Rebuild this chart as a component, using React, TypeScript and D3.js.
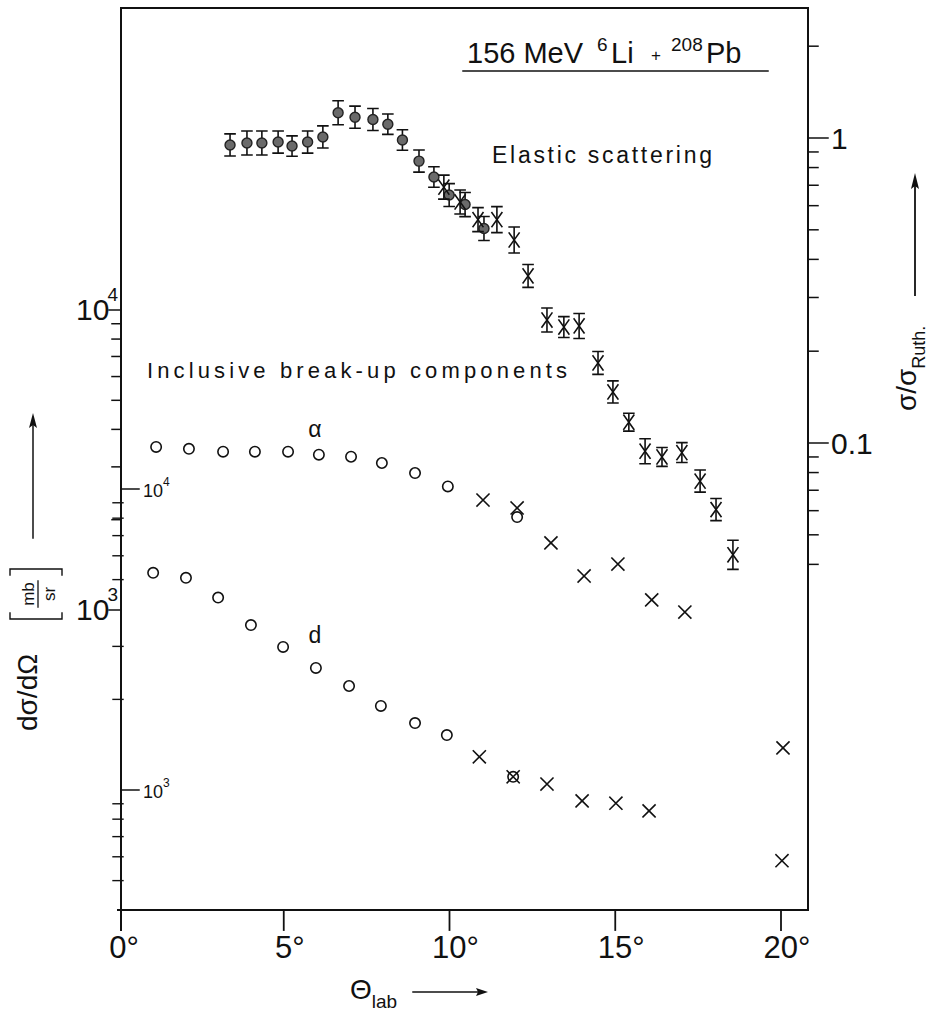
import React, { useEffect, useRef } from "react";
import * as d3 from "d3";

// elastic scattering, sigma/sigma_Ruth on the right axis
const elCircTheta = [3.38, 3.89, 4.34, 4.83, 5.25, 5.72, 6.18, 6.64, 7.15, 7.69, 8.14, 8.58, 9.08, 9.53, 9.99, 10.47, 11.04];
const elCircRatio = [0.949, 0.963, 0.963, 0.97, 0.941, 0.97, 1.008, 1.21, 1.17, 1.15, 1.11, 0.985, 0.84, 0.745, 0.65, 0.605, 0.505];
const elCircErr = [8.7, 9.5, 9.5, 8.7, 8, 8.7, 8.7, 9.5, 8.7, 8.7, 8, 8, 8.7, 8, 9, 9.5, 9.5]; // percent
const elCrossTheta = [9.83, 10.32, 10.86, 11.43, 11.95, 12.37, 12.94, 13.45, 13.91, 14.48, 14.93, 15.41, 15.9, 16.41, 17.01, 17.56, 18.04, 18.55];
const elCrossRatio = [0.69, 0.617, 0.54, 0.54, 0.463, 0.353, 0.253, 0.24, 0.242, 0.183, 0.147, 0.117, 0.094, 0.09, 0.093, 0.075, 0.0605, 0.043];
const elCrossErr = [9.5, 9.5, 9.5, 10.3, 10.3, 9, 9.5, 8.2, 9.9, 9, 8.7, 7, 9.9, 7.4, 7.8, 8.7, 8.7, 11.6];

// inclusive alpha break-up component (inner left scale, mb/sr)
const alphaCircTheta = [1.15, 2.14, 3.17, 4.13, 5.13, 6.06, 7.03, 7.96, 8.96, 9.95, 12.04];
const alphaCircVal = [13800, 13600, 13300, 13300, 13300, 13000, 12800, 12200, 11300, 10200, 8070];
const alphaCrossTheta = [11.01, 12.04, 13.06, 14.06, 15.08, 16.1, 17.1, 20.06];
const alphaCrossVal = [9190, 8650, 6620, 5140, 5630, 4280, 3900, 1380];

// inclusive deuteron component (outer left scale, mb/sr)
const dCircTheta = [1.06, 2.05, 3.02, 4.01, 4.98, 5.97, 6.97, 7.93, 8.96, 9.92, 11.92];
const dCircVal = [1330, 1280, 1100, 891, 753, 641, 558, 479, 420, 383, 278];
const dCrossTheta = [10.9, 11.92, 12.94, 14.0, 15.02, 16.02, 20.03];
const dCrossVal = [324, 278, 263, 231, 227, 214, 146];

const xTicks = [0, 5, 10, 15, 20];
const rightMajor = [1, 0.1];
const rightMinor = [2, 0.9, 0.8, 0.7, 0.6, 0.5, 0.4, 0.3, 0.2, 0.09, 0.08, 0.07, 0.06, 0.05, 0.04];
const outerMajor = [1e4, 1e3];
const outerMinor = [9000, 8000, 7000, 6000, 5000, 4000, 3000, 2000];
const innerMajor = [1e4, 1e3];
const innerMinor = [9000, 8000, 7000, 6000, 5000, 3000, 2000, 900, 800, 700, 600, 500];

const ink = "#111";
const font2 = "'Liberation Sans', Arial, sans-serif";

export default function App() {
  const ref = useRef<SVGSVGElement>(null);

  useEffect(() => {
    const svg = d3.select(ref.current);
    svg.selectAll("*").remove();

    const left = 121, right = 808, top = 8, bottom = 910;

    const x = d3.scaleLinear().domain([0, 20]).range([118, 781]);
    const yR = d3.scaleLog().domain([1, 0.1]).range([138, 443]);
    const yOuter = d3.scaleLog().domain([1e4, 1e3]).range([310, 610]);
    const yInner = d3.scaleLog().domain([1e4, 1e3]).range([489, 790]);

    const g = svg.append("g").attr("stroke-linecap", "square");

    // frame
    g.append("path")
      .attr("d", `M${left},${bottom + 20}V${top}H${right}V${bottom}H${left - 3}`)
      .attr("fill", "none").attr("stroke", ink).attr("stroke-width", 2);

    // x ticks
    xTicks.forEach(t => {
      if (t > 0) {
        g.append("line").attr("x1", x(t)).attr("x2", x(t)).attr("y1", bottom).attr("y2", bottom + 20)
          .attr("stroke", ink).attr("stroke-width", 1.8);
      }
      g.append("text").attr("x", x(t) + 6).attr("y", 958).attr("text-anchor", "middle")
        .attr("font-family", font2).attr("font-size", 31).attr("fill", ink).text(t + "°");
    });

    // right axis
    rightMinor.forEach(v => {
      g.append("line").attr("x1", right).attr("x2", right + 10).attr("y1", yR(v)).attr("y2", yR(v))
        .attr("stroke", ink).attr("stroke-width", 1.5);
    });
    rightMajor.forEach(v => {
      g.append("line").attr("x1", right).attr("x2", right + 20).attr("y1", yR(v)).attr("y2", yR(v))
        .attr("stroke", ink).attr("stroke-width", 1.5);
      g.append("text").attr("x", right + 23).attr("y", yR(v) + 11)
        .attr("font-family", font2).attr("font-size", 30).attr("fill", ink).text(v === 1 ? "1" : "0.1");
    });

    // outer left scale (big labels, ticks outward)
    outerMinor.forEach(v => {
      g.append("line").attr("x1", left - 9).attr("x2", left).attr("y1", yOuter(v)).attr("y2", yOuter(v))
        .attr("stroke", ink).attr("stroke-width", 1.5);
    });
    outerMajor.forEach(v => {
      g.append("line").attr("x1", left - 12).attr("x2", left).attr("y1", yOuter(v)).attr("y2", yOuter(v))
        .attr("stroke", ink).attr("stroke-width", 1.5);
      const t = g.append("text").attr("x", 76).attr("y", yOuter(v) + 10)
        .attr("font-family", font2).attr("font-size", 30).attr("fill", ink);
      t.append("tspan").text("10");
      t.append("tspan").attr("dx", -2).attr("dy", -19).attr("font-size", 19).text(String(Math.log10(v)));
    });

    // inner left scale (small labels, ticks inward)
    innerMinor.forEach(v => {
      g.append("line").attr("x1", left - 8).attr("x2", left + 2).attr("y1", yInner(v)).attr("y2", yInner(v))
        .attr("stroke", ink).attr("stroke-width", 1.4);
    });
    innerMajor.forEach(v => {
      g.append("line").attr("x1", left).attr("x2", left + 18).attr("y1", yInner(v)).attr("y2", yInner(v))
        .attr("stroke", ink).attr("stroke-width", 1.5);
      const t = g.append("text").attr("x", 143).attr("y", yInner(v) + 8)
        .attr("font-family", font2).attr("font-size", 18).attr("fill", ink);
      t.append("tspan").text("10");
      t.append("tspan").attr("dx", 0).attr("dy", -11).attr("font-size", 12).text(String(Math.log10(v)));
    });

    // marker helpers
    const circle = (cx: number, cy: number) =>
      g.append("circle").attr("cx", cx).attr("cy", cy).attr("r", 5.2)
        .attr("fill", "none").attr("stroke", ink).attr("stroke-width", 1.6);
    const cross = (cx: number, cy: number, w = 6, h = 6) =>
      g.append("path").attr("d", `M${cx - w},${cy - h}L${cx + w},${cy + h}M${cx - w},${cy + h}L${cx + w},${cy - h}`)
        .attr("fill", "none").attr("stroke", ink).attr("stroke-width", 1.6);
    const errBar = (cx: number, v: number, e: number) => {
      const y1 = yR(v * (1 + e / 100)), y2 = yR(v / (1 + e / 100));
      g.append("path")
        .attr("d", `M${cx},${y1}V${y2}M${cx - 5},${y1}H${cx + 5}M${cx - 5},${y2}H${cx + 5}`)
        .attr("fill", "none").attr("stroke", ink).attr("stroke-width", 1.6);
    };

    // elastic
    elCircTheta.forEach((t, i) => {
      errBar(x(t), elCircRatio[i], elCircErr[i]);
      g.append("circle").attr("cx", x(t)).attr("cy", yR(elCircRatio[i])).attr("r", 5)
        .attr("fill", "#6a6a6a").attr("stroke", "#222").attr("stroke-width", 1.4);
    });
    elCrossTheta.forEach((t, i) => {
      errBar(x(t), elCrossRatio[i], elCrossErr[i]);
      cross(x(t), yR(elCrossRatio[i]), 5, 7);
    });

    // break-up components
    alphaCircTheta.forEach((t, i) => circle(x(t), yInner(alphaCircVal[i])));
    alphaCrossTheta.forEach((t, i) => cross(x(t), yInner(alphaCrossVal[i])));
    dCircTheta.forEach((t, i) => circle(x(t), yOuter(dCircVal[i])));
    dCrossTheta.forEach((t, i) => cross(x(t), yOuter(dCrossVal[i])));

    // texts
    const title = g.append("text").attr("y", 63).attr("font-family", font2).attr("font-size", 29).attr("fill", ink);
    title.append("tspan").attr("x", 467).text("156 MeV");
    title.append("tspan").attr("x", 597).attr("dy", -12).attr("font-size", 19).text("6");
    title.append("tspan").attr("x", 611).attr("dy", 12).text("Li");
    title.append("tspan").attr("x", 651).attr("dy", -2).attr("font-size", 17).text("+");
    title.append("tspan").attr("x", 671).attr("dy", -10).attr("font-size", 19).text("208");
    title.append("tspan").attr("x", 706).attr("dy", 12).text("Pb");
    g.append("line").attr("x1", 463).attr("x2", 768).attr("y1", 71).attr("y2", 71)
      .attr("stroke", ink).attr("stroke-width", 1.5);

    g.append("text").attr("x", 492).attr("y", 163).attr("textLength", 220).attr("lengthAdjust", "spacing")
      .attr("font-family", font2).attr("font-size", 23).attr("fill", ink).text("Elastic scattering");
    g.append("text").attr("x", 147).attr("y", 378).attr("textLength", 420).attr("lengthAdjust", "spacing")
      .attr("font-family", font2).attr("font-size", 22).attr("fill", ink).text("Inclusive break-up components");
    g.append("text").attr("x", 315).attr("y", 437).attr("text-anchor", "middle")
      .attr("font-family", font2).attr("font-size", 23).attr("fill", ink).text("α");
    g.append("text").attr("x", 315).attr("y", 643).attr("text-anchor", "middle")
      .attr("font-family", font2).attr("font-size", 23).attr("fill", ink).text("d");

    // x label
    const xl = g.append("text").attr("x", 350).attr("y", 999).attr("font-family", font2).attr("font-size", 28).attr("fill", ink);
    xl.append("tspan").text("Θ");
    xl.append("tspan").attr("dy", 9).attr("font-size", 19).text("lab");
    g.append("line").attr("x1", 413).attr("x2", 482).attr("y1", 992).attr("y2", 992).attr("stroke", ink).attr("stroke-width", 1.5);
    g.append("path").attr("d", "M488,992L476,988L478,992L476,996Z").attr("fill", ink);

    // left y label
    g.append("text").attr("transform", "translate(37,731) rotate(-90)")
      .attr("font-family", font2).attr("font-size", 28).attr("fill", ink).text("dσ/dΩ");
    g.append("text").attr("transform", "translate(34,594) rotate(-90)").attr("text-anchor", "middle")
      .attr("font-family", font2).attr("font-size", 17).attr("fill", ink).text("mb");
    g.append("text").attr("transform", "translate(55,594) rotate(-90)").attr("text-anchor", "middle")
      .attr("font-family", font2).attr("font-size", 17).attr("fill", ink).text("sr");
    g.append("line").attr("x1", 38).attr("x2", 38).attr("y1", 581).attr("y2", 607).attr("stroke", ink).attr("stroke-width", 1.3);
    g.append("path").attr("d", "M10,575V569H62V575M10,613V619H62V613").attr("fill", "none").attr("stroke", ink).attr("stroke-width", 1.4);
    g.append("line").attr("x1", 33).attr("x2", 33).attr("y1", 538).attr("y2", 425).attr("stroke", ink).attr("stroke-width", 1.5);
    g.append("path").attr("d", "M33,413L29,428L33,425L37,428Z").attr("fill", ink);

    // right y label
    const rl = g.append("text").attr("transform", "translate(916,411) rotate(-90)")
      .attr("font-family", font2).attr("font-size", 28).attr("fill", ink);
    rl.append("tspan").text("σ/σ");
    rl.append("tspan").attr("dy", 9).attr("font-size", 18).text("Ruth.");
    g.append("line").attr("x1", 915).attr("x2", 915).attr("y1", 295).attr("y2", 186).attr("stroke", ink).attr("stroke-width", 1.8);
    g.append("path").attr("d", "M915,173L911,189L915,186L919,189Z").attr("fill", ink);
  }, []);

  return (
    <svg ref={ref} width={944} height={1012}
      style={{ position: "absolute", left: 0, top: 0, background: "#fff" }} />
  );
}
